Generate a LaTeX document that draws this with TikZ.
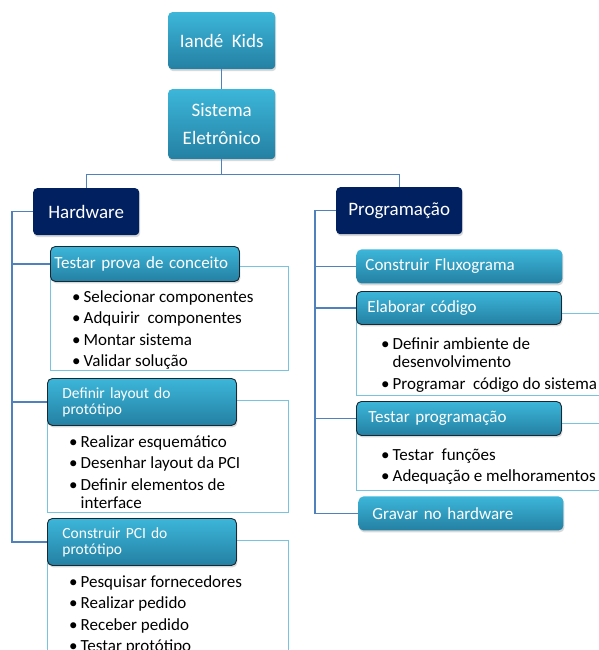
\documentclass[tikz,border=0pt]{standalone}
\usepackage{fontspec}
\setmainfont{Carlito}
\usepackage{tikz}
\usetikzlibrary{positioning, shadows}

\definecolor{tealtop}{RGB}{60,182,217}
\definecolor{tealbot}{RGB}{36,128,163}
\definecolor{navy}{RGB}{0,32,96}
\definecolor{linkblue}{RGB}{79,129,189}
\definecolor{boxline}{RGB}{120,195,222}
\definecolor{hdrline}{RGB}{25,40,50}

\begin{document}
\begin{tikzpicture}[x=1pt, y=-1pt,
    conn/.style={draw=linkblue, line width=1.3pt},
    topbox/.style={rectangle, rounded corners=4pt, top color=tealtop, bottom color=tealbot,
        text=white, align=center, minimum width=107pt, anchor=north west,
        font=\fontsize{19}{28}\selectfont,
        drop shadow={opacity=0.3, shadow xshift=1pt, shadow yshift=-2pt}},
    grpbox/.style={rectangle, rounded corners=4pt, fill=navy, text=white, anchor=north west,
        minimum height=47pt, font=\fontsize{19}{23}\selectfont,
        drop shadow={opacity=0.3, shadow xshift=1pt, shadow yshift=-2pt}},
    hdr/.style={rectangle, rounded corners=5pt, top color=tealtop, bottom color=tealbot,
        draw=hdrline, line width=0.9pt, text=white, align=left, anchor=north west,
        inner ysep=0pt, font=\fontsize{17}{20}\selectfont,
        drop shadow={opacity=0.3, shadow xshift=1pt, shadow yshift=-2pt}},
    task/.style={hdr, draw=none},
    tbox/.style={draw=boxline, line width=1.3pt, fill=white, inner sep=0pt, anchor=north west},
    lst/.style={inner sep=0pt, anchor=north west, font=\fontsize{17}{18.5}\selectfont}
]
    \clip (0,0) rectangle (599,650);

    % top of the tree
    \node[topbox, minimum height=57pt] (ik) at (168,12) {Iandé~~Kids};
    \node[topbox, minimum height=70pt] (se) at (168,89) {Sistema\\Eletrônico};
    \node[grpbox, minimum width=106pt] (hw) at (33,188) {Hardware};
    \node[grpbox, minimum width=126pt] (pg) at (336,187) {Programação};

    % hardware branch
    \node[tbox, minimum width=238pt, minimum height=104pt] (tpcb) at (50,266) {};
    \node[hdr, minimum height=35pt, inner xsep=4pt, text width=181pt] (tpc) at (50,246) {Testar prova de conceito};
    \node[lst] (tpcl) at (72,289) {\begin{tabular}{@{}l@{\hspace{3pt}}l@{}}
        \textbullet & Selecionar componentes\\[3pt]
        \textbullet & Adquirir~~componentes\\[3pt]
        \textbullet & Montar sistema\\[3pt]
        \textbullet & Validar solução
    \end{tabular}};

    \node[tbox, minimum width=241pt, minimum height=112pt] (dlpb) at (47,400) {};
    \node[hdr, minimum height=47pt, inner xsep=15pt, text width=159pt,
        font=\fontsize{15.5}{16}\selectfont] (dlp) at (47,378) {Definir layout do\\protótipo};
    \node[lst] (dlpl) at (69,434) {\begin{tabular}{@{}l@{\hspace{3pt}}l@{}}
        \textbullet & Realizar esquemático\\[3pt]
        \textbullet & Desenhar layout da PCI\\[3pt]
        \textbullet & Definir elementos de\\
                    & interface
    \end{tabular}};

    \node[tbox, minimum width=241pt, minimum height=130pt] (cppb) at (47,540) {};
    \node[hdr, minimum height=47pt, inner xsep=15pt, text width=159pt,
        font=\fontsize{15.5}{16}\selectfont] (cpp) at (47,518) {Construir PCI do\\protótipo};
    \node[lst] (cppl) at (69,574) {\begin{tabular}{@{}l@{\hspace{3pt}}l@{}}
        \textbullet & Pesquisar fornecedores\\[3pt]
        \textbullet & Realizar pedido\\[3pt]
        \textbullet & Receber pedido\\[3pt]
        \textbullet & Testar protótipo
    \end{tabular}};

    % programming branch
    \node[task, minimum height=34pt, inner xsep=9pt, text width=188pt] (cf) at (356,249) {Construir Fluxograma};

    \node[tbox, minimum width=260pt, minimum height=82pt] (ecb) at (356,313) {};
    \node[hdr, minimum height=33pt, inner xsep=11pt, text width=183pt] (ec) at (356,291) {Elaborar código};
    \node[lst] (ecl) at (381,336) {\begin{tabular}{@{}l@{\hspace{3pt}}l@{}}
        \textbullet & Definir ambiente de\\
                    & desenvolvimento\\[3pt]
        \textbullet & Programar~~código do sistema
    \end{tabular}};

    \node[tbox, minimum width=260pt, minimum height=67pt] (tpb) at (356,423) {};
    \node[hdr, minimum height=34pt, inner xsep=12pt, text width=181pt] (tp) at (356,401) {Testar programação};
    \node[lst] (tpl) at (381,447) {\begin{tabular}{@{}l@{\hspace{3pt}}l@{}}
        \textbullet & Testar~~funções\\[3pt]
        \textbullet & Adequação e melhoramentos
    \end{tabular}};

    \node[task, minimum height=34pt, inner xsep=14pt, text width=177pt] (gh) at (358,496) {Gravar no hardware};

    % connectors
    \draw[conn] (ik) -- (se);
    \draw[conn] (se.south) -- ++(0,15) -| (hw.north);
    \draw[conn] (se.south) -- ++(0,15) -| (pg.north);
    \draw[conn] (hw.west) -- ++(-21,0) |- (tpc.west);
    \draw[conn] (hw.west) -- ++(-21,0) |- (dlp.west);
    \draw[conn] (hw.west) -- ++(-21,0) |- (cpp.west);
    \draw[conn] (pg.west) -- ++(-21,0) |- (cf.west);
    \draw[conn] (pg.west) -- ++(-21,0) |- (ec.west);
    \draw[conn] (pg.west) -- ++(-21,0) |- (tp.west);
    \draw[conn] (pg.west) -- ++(-21,0) |- (gh.west);
\end{tikzpicture}
\end{document}
